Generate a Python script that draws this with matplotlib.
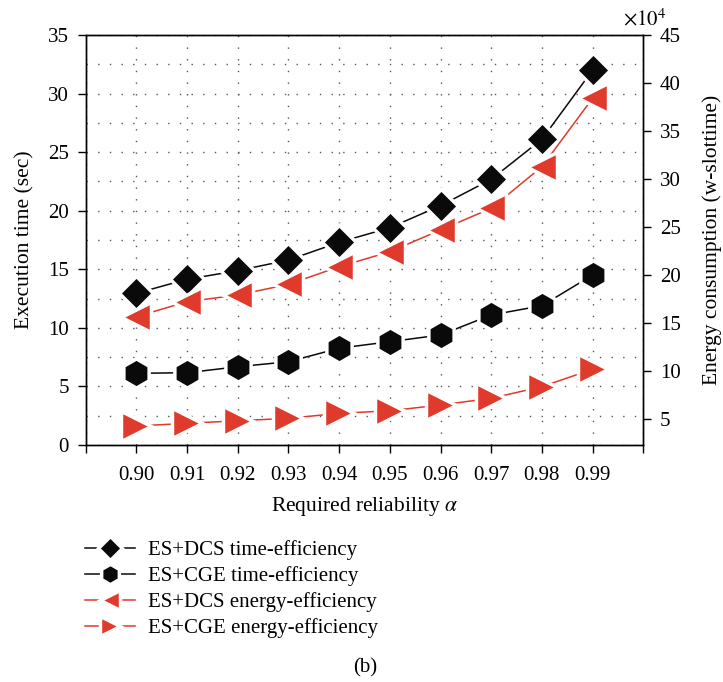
import numpy as np
import matplotlib.pyplot as plt
from matplotlib.ticker import MultipleLocator

reliability = [0.90, 0.91, 0.92, 0.93, 0.94, 0.95, 0.96, 0.97, 0.98, 0.99]
tick_labels = ["0.90", "0.91", "0.92", "0.93", "0.94", "0.95", "0.96", "0.97", "0.98", "0.99"]

# execution time (sec), left axis
dcs_time = [12.95, 14.15, 14.88, 15.79, 17.3, 18.55, 20.43, 22.68, 26.1, 32.0]
cge_time = [6.12, 6.17, 6.68, 7.11, 8.26, 8.82, 9.39, 11.1, 11.89, 14.51]

# energy consumption (x10^4 w-slottime), right axis
dcs_energy = [15.63, 17.19, 17.89, 19.0, 20.84, 22.4, 24.67, 26.93, 31.27, 38.4]
cge_energy = [4.23, 4.51, 4.78, 5.03, 5.55, 5.82, 6.42, 7.12, 8.33, 10.15]

series_names = ["ES+DCS time-efficiency", "ES+CGE time-efficiency",
                "ES+DCS energy-efficiency", "ES+CGE energy-efficiency"]

RED = "#df3a2b"
BLACK = "#0a0a0a"

plt.rcParams['font.family'] = ['Liberation Serif', 'DejaVu Serif']
plt.rcParams['mathtext.fontset'] = 'stix'

W, H = 723, 682
fig = plt.figure(figsize=(W / 100, H / 100), dpi=100)
ax = fig.add_axes([85.7 / W, 1 - 445 / H, (643.3 - 85.7) / W, 410 / H])
ax2 = ax.twinx()

common = dict(lw=1.1, mec="white", mew=2.5)
h1, = ax.plot(reliability, dcs_time, color=BLACK, marker="D", ms=17, mfc=BLACK, **common)
h2, = ax.plot(reliability, cge_time, color=BLACK, marker="h", ms=21, mfc=BLACK, **common)
h3, = ax2.plot(reliability, dcs_energy, color=RED, marker="<", ms=21.5, mfc=RED, **common)
h4, = ax2.plot(reliability, cge_energy, color=RED, marker=">", ms=21.5, mfc=RED, **common)

ax.set_xlim(0.89, 1.00)
ax.set_ylim(0, 35)
ax2.set_ylim(2.25, 45)

xticks = np.round(np.arange(0.89, 1.0001, 0.01), 2)
ax.set_xticks(xticks)
ax.set_xticklabels([""] + tick_labels + [""])
ax.yaxis.set_major_locator(MultipleLocator(5))
ax.yaxis.set_minor_locator(MultipleLocator(2.5))
ax2.set_yticks([5, 10, 15, 20, 25, 30, 35, 40, 45])

dots = (0, (1, 7.4))
ax.grid(True, axis="x", which="major", color="#555555", lw=1.0, linestyle=dots)
ax.grid(True, axis="y", which="both", color="#555555", lw=1.0, linestyle=dots)
ax.set_axisbelow(True)

for a in (ax, ax2):
    for s in a.spines.values():
        s.set_linewidth(1.0)
ax.tick_params(axis="y", which="major", direction="out", length=6, width=1.0, pad=6, labelsize=15)
ax.tick_params(axis="y", which="minor", length=0)
ax.tick_params(axis="x", direction="out", length=6, width=1.0, pad=9, labelsize=15)
ax2.tick_params(axis="y", direction="out", length=6, width=1.0, pad=6, labelsize=15)

ax.set_xlabel(r"Required reliability $\alpha$", fontsize=15.5, labelpad=7)
ax.set_ylabel("Execution time (sec)", fontsize=15.5, labelpad=10)
ax2.set_ylabel("Energy consumption (w-slottime)", fontsize=15.5, labelpad=15)

fig.text(645 / W, 1 - 20 / H, r"$\times10^4$", fontsize=15, ha="center", va="center")

fig.legend([h1, h2, h3, h4], series_names, loc="upper left",
           bbox_to_anchor=(85 / W, 1 - 540 / H), frameon=False, fontsize=15,
           handlelength=2.4, handletextpad=0.62, labelspacing=0.3,
           borderpad=0, borderaxespad=0, markerscale=0.7)

fig.text(365 / W, 1 - 668 / H, "(b)", fontsize=15, ha="center", va="center")

fig.savefig("out.png", dpi=100)
